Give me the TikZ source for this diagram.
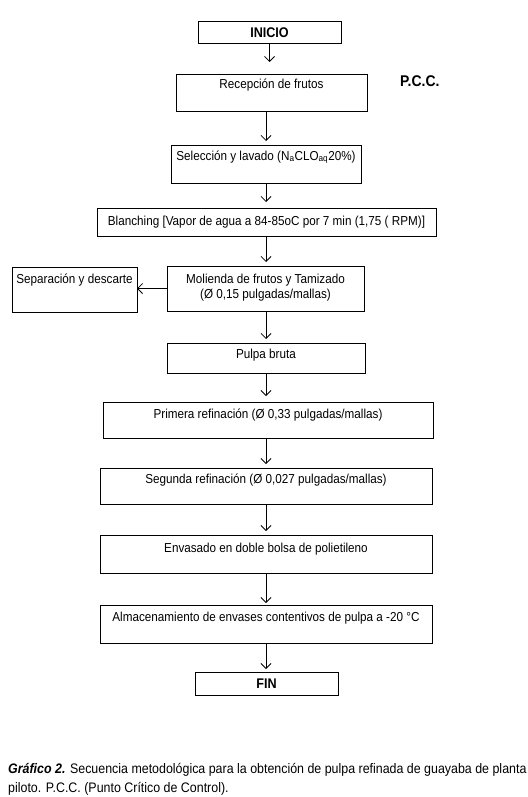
\documentclass[tikz,border=0pt]{standalone}
\usepackage{fontspec}
\setmainfont{Liberation Sans}[FakeStretch=0.9]
\usetikzlibrary{arrows.meta}
\newcommand\flowtext[4]{\parbox[c][#2pt][t]{#1pt}{\centering\rule{0pt}{#3pt}#4\par}}
\begin{document}
\begin{tikzpicture}[x=1pt,y=-1pt,
  stepbox/.style={draw, line width=1pt, inner sep=0pt, outer sep=0pt, anchor=north west,
    font=\fontsize{13}{15}\selectfont},
  endbox/.style={draw, line width=1pt, inner sep=0pt, outer sep=0pt, anchor=north west,
    font=\fontsize{14}{15}\selectfont\bfseries},
  flow/.style={draw, line width=0.8pt, -{Straight Barb[length=5pt,width=10pt,line width=0.8pt]}, shorten >=4pt}]
\useasboundingbox (0,0) rectangle (527,797);
\coordinate (axis) at (266,0);
\node[endbox, minimum width=143pt, minimum height=22pt] (inicio) at (198,22) {INICIO};
\node[stepbox] (recep) at (176,75) {\flowtext{191}{37}{14}{Recepción de frutos}};
\node[anchor=base west, inner sep=0pt, font=\fontsize{15.5}{16}\selectfont\bfseries] (pcc) at (400,87) {P.C.C.};
\node[stepbox] (selec) at (171,145) {\flowtext{190}{38}{15}{Selección y lavado (N\textsubscript{a}CLO\textsubscript{aq}20\%)}};
\node[stepbox] (blanch) at (97,208) {\flowtext{339}{28}{17}{Blanching [Vapor de agua a 84-85oC por 7 min (1,75 ( RPM)]}};
\node[stepbox] (moli) at (167,266) {\flowtext{197}{45}{17}{Molienda de frutos y Tamizado\\(Ø 0,15 pulgadas/mallas)}};
\node[stepbox] (separ) at (12,267) {\flowtext{125}{45}{16}{Separación y descarte}};
\node[stepbox] (pulpa) at (167,343) {\flowtext{198}{30}{15}{Pulpa bruta}};
\node[stepbox] (prim) at (103,402) {\flowtext{330}{36}{16}{Primera refinación (Ø 0,33 pulgadas/mallas)}};
\node[stepbox] (segu) at (100,468) {\flowtext{332}{36}{15}{Segunda refinación (Ø 0,027 pulgadas/mallas)}};
\node[stepbox] (envas) at (100,535) {\flowtext{332}{38}{17}{Envasado en doble bolsa de polietileno}};
\node[stepbox] (almac) at (100,605) {\flowtext{332}{38}{16}{Almacenamiento de envases contentivos de pulpa a -20 °C}};
\node[endbox, minimum width=143pt, minimum height=23pt] (fin) at (195,672) {FIN};
\draw[flow, shorten >=13pt] (inicio.south) -- (recep.north -| inicio.south);
\draw[flow] (recep.south -| axis) -- (selec.north -| axis);
\draw[flow, shorten >=6pt] (selec.south -| axis) -- (blanch.north -| axis);
\draw[flow] (blanch.south -| axis) -- (moli.north -| axis);
\draw[flow, shorten >=0pt] (moli.west) -- (separ.east |- moli.west);
\draw[flow] (moli.south -| axis) -- (pulpa.north -| axis);
\draw[flow, shorten >=6pt] (pulpa.south -| axis) -- (prim.north -| axis);
\draw[flow] (prim.south -| axis) -- (segu.north -| axis);
\draw[flow] (segu.south -| axis) -- (envas.north -| axis);
\draw[flow, shorten >=2pt] (envas.south -| axis) -- (almac.north -| axis);
\draw[flow, shorten >=3pt] (almac.south -| axis) -- (fin.north -| axis);
\node[anchor=base west, align=left, inner sep=0pt, font=\fontsize{13.8}{18.5}\selectfont] (cap) at (8,792)
  {\textbf{\textit{Gráfico 2.}} Secuencia metodológica para la obtención de pulpa refinada de guayaba de planta\\
   piloto. P.C.C. (Punto Crítico de Control).};
\end{tikzpicture}
\end{document}
